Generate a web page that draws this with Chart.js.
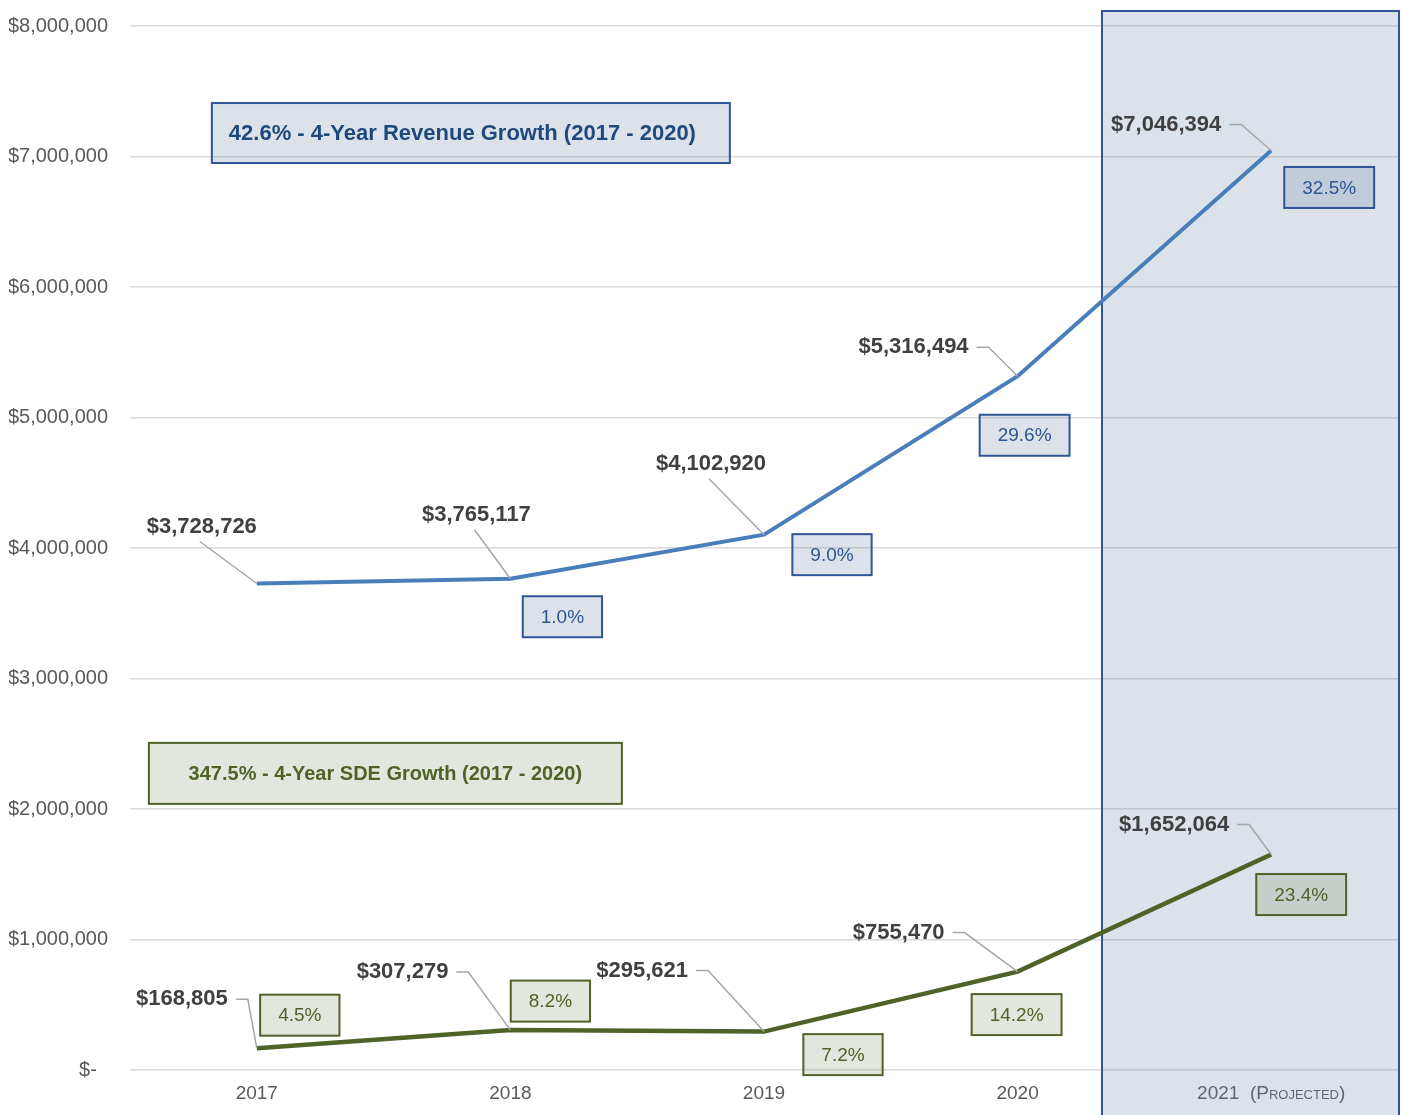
<!DOCTYPE html>
<html>
<head>
<meta charset="utf-8">
<script src="https://cdn.jsdelivr.net/npm/chart.js@4.4.0/dist/chart.umd.min.js"></script>
<style>
  html, body { margin: 0; padding: 0; background: #fff; }
</style>
</head>
<body>
<canvas id="grafico" width="1402" height="1115"></canvas>
<script>
// dados
const anos = ["2017", "2018", "2019", "2020", "2021  (Projected)"];
const receita = [3728726, 3765117, 4102920, 5316494, 7046394];
const sde = [168805, 307279, 295621, 755470, 1652064];
const crescReceita = [null, "1.0%", "9.0%", "29.6%", "32.5%"];
const crescSde = ["4.5%", "8.2%", "7.2%", "14.2%", "23.4%"];
const tituloReceita = "42.6% - 4-Year Revenue Growth (2017 - 2020)";
const tituloSde = "347.5% - 4-Year SDE Growth (2017 - 2020)";
const eixoY = { min: 0, max: 8000000, passo: 1000000 };
const inicioProjecao = 3.333; // posicao (em categorias) onde comeca a area projetada

// layout das anotacoes (deslocamentos em px a partir do ponto)
// [dx, dy, tipo] tipo 'b' = linha saindo de baixo do rotulo, 's' = linha saindo do lado
const posRotReceita = [[-55, -57, 'b'], [-34, -64, 'b'], [-53, -71, 'b'], [-49, -29, 's'], [-50, -26, 's']];
const posRotSde = [[-29, -49, 's'], [-62, -58, 's'], [-76, -61, 's'], [-73, -39, 's'], [-42, -30, 's']];
const posCxReceita = [null, [52, 38], [68, 20], [7, 59], [58, 37]];
const posCxSde = [[43, -33], [40, -29], [79, 23], [-1, 43], [30, 40]];

const FONTE = "'Liberation Sans', Arial, sans-serif";
Chart.defaults.font.family = FONTE;

const azul = { linha: '#4A7EBB', borda: '#2F5597', texto: '#2E5594', titulo: '#1F497D', fundo: 'rgba(115,139,171,0.25)' };
const verde = { linha: '#4F6228', borda: '#4F6228', texto: '#4F6228', titulo: '#4F6228', fundo: 'rgba(115,130,80,0.2)' };

function formatarDolar(v) {
  if (v === 0) return "$-  ";
  return "$" + v.toLocaleString("en-US");
}

function caixa(ctx, cx, cy, w, h, cor) {
  ctx.fillStyle = cor.fundo;
  ctx.fillRect(cx - w / 2, cy - h / 2, w, h);
  ctx.strokeStyle = cor.borda;
  ctx.lineWidth = 2;
  ctx.strokeRect(cx - w / 2, cy - h / 2, w, h);
}

function desenharRotulos(ctx, meta, valores, pos) {
  valores.forEach((v, i) => {
    const p = meta.data[i];
    const [dx, dy, tipo] = pos[i];
    ctx.strokeStyle = '#A6A6A6';
    ctx.lineWidth = 1.5;
    ctx.fillStyle = '#404040';
    ctx.font = "bold 22px " + FONTE;
    ctx.textBaseline = 'middle';
    ctx.beginPath();
    if (tipo === 'b') {
      ctx.textAlign = 'center';
      ctx.fillText(formatarDolar(v), p.x + dx, p.y + dy);
      ctx.moveTo(p.x + dx - 2, p.y + dy + 15);
      ctx.lineTo(p.x, p.y);
    } else {
      ctx.textAlign = 'right';
      ctx.fillText(formatarDolar(v), p.x + dx, p.y + dy);
      ctx.moveTo(p.x + dx + 8, p.y + dy);
      ctx.lineTo(p.x + dx + 20, p.y + dy);
      ctx.lineTo(p.x, p.y);
    }
    ctx.stroke();
  });
}

function desenharCaixas(ctx, meta, textos, pos, cor) {
  textos.forEach((t, i) => {
    if (!t) return;
    const p = meta.data[i];
    const cx = p.x + pos[i][0], cy = p.y + pos[i][1];
    ctx.font = "19px " + FONTE;
    const w = ctx.measureText(t).width + 36;
    caixa(ctx, cx, cy, w, 41, cor);
    ctx.fillStyle = cor.texto;
    ctx.textAlign = 'center';
    ctx.textBaseline = 'middle';
    ctx.fillText(t, cx, cy + 1);
  });
}

const anotacoes = {
  id: 'anotacoes',
  beforeDatasetsDraw(chart) {
    const { ctx, chartArea, scales: { x } } = chart;
    const x0 = Math.round(x.getPixelForValue(inicioProjecao));
    const x1 = Math.round(chartArea.right + 1);
    ctx.save();
    ctx.fillStyle = 'rgba(115,139,171,0.25)';
    ctx.fillRect(x0, chartArea.top - 15, x1 - x0, chart.height);
    ctx.strokeStyle = '#2F5597';
    ctx.lineWidth = 2;
    ctx.strokeRect(x0, Math.round(chartArea.top - 15), x1 - x0, chart.height + 20);
    ctx.restore();
  },
  afterDatasetsDraw(chart) {
    const { ctx, scales: { x, y } } = chart;
    ctx.save();
    desenharRotulos(ctx, chart.getDatasetMeta(0), receita, posRotReceita);
    desenharRotulos(ctx, chart.getDatasetMeta(1), sde, posRotSde);
    desenharCaixas(ctx, chart.getDatasetMeta(0), crescReceita, posCxReceita, azul);
    desenharCaixas(ctx, chart.getDatasetMeta(1), crescSde, posCxSde, verde);

    // caixas de titulo
    let cx = x.getPixelForValue(0.844), cy = y.getPixelForValue(7180000);
    caixa(ctx, cx, cy, 518, 60, azul);
    ctx.font = "bold 22px " + FONTE;
    ctx.fillStyle = azul.titulo;
    ctx.textAlign = 'left';
    ctx.textBaseline = 'middle';
    ctx.fillText(tituloReceita, cx - 242, cy + 1);

    cx = x.getPixelForValue(0.507); cy = y.getPixelForValue(2274000);
    caixa(ctx, cx, cy, 473, 61, verde);
    ctx.font = "bold 20px " + FONTE;
    ctx.fillStyle = verde.titulo;
    ctx.textAlign = 'center';
    ctx.fillText(tituloSde, cx, cy + 1);
    ctx.restore();
  }
};

const grafico = new Chart(document.getElementById("grafico").getContext("2d"), {
  type: 'line',
  data: {
    labels: anos,
    datasets: [
      { label: 'Revenue', data: receita, borderColor: azul.linha, borderWidth: 4, pointRadius: 0, tension: 0 },
      { label: 'SDE', data: sde, borderColor: verde.linha, borderWidth: 4.5, pointRadius: 0, tension: 0 }
    ]
  },
  options: {
    responsive: false,
    animation: false,
    devicePixelRatio: 1,
    layout: { padding: { top: 26, left: 9, right: 4, bottom: 6 } },
    plugins: { legend: { display: false }, tooltip: { enabled: false } },
    scales: {
      x: {
        offset: true,
        grid: { display: false },
        border: { display: false },
        ticks: {
          color: '#595959',
          padding: 4,
          maxRotation: 0,
          autoSkip: false,
          font: c => ({ size: 19, weight: c.index === 4 ? 'small-caps' : 'normal' })
        }
      },
      y: {
        min: eixoY.min,
        max: eixoY.max,
        grid: { color: '#D9D9D9', lineWidth: 1.5, drawTicks: false },
        border: { display: false },
        ticks: { stepSize: eixoY.passo, color: '#595959', font: { size: 20, lineHeight: 0.2 }, padding: 22, callback: v => formatarDolar(v) },
        afterFit: s => { s.width = 121; }
      }
    }
  },
  plugins: [anotacoes]
});
</script>
</body>
</html>
